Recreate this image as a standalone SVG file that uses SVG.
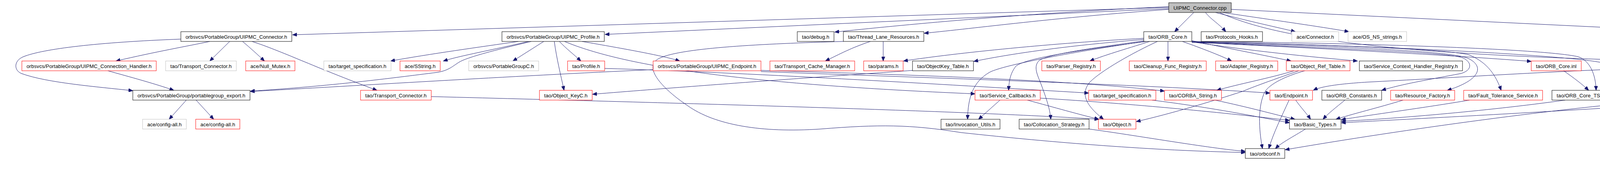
<svg xmlns="http://www.w3.org/2000/svg" width="4909" height="445" viewBox="0 0 4909 445">
<style>
rect{fill:#fff;stroke-width:1}
.k{stroke:#000}
.r{stroke:#f00}
.g{stroke:#bfbfbf}
.root{fill:#bfbfbf;stroke:#000}
text{font-family:"Liberation Sans",Arial,sans-serif;font-size:13px;fill:#000;text-anchor:middle}
#edges path{fill:none;stroke:#191970;stroke-width:1;marker-end:url(#arr)}
</style>
<defs>
<marker id="arr" markerUnits="userSpaceOnUse" markerWidth="12" markerHeight="9" refX="11" refY="4.5" orient="auto">
<path d="M0,0 L11,4.5 L0,9 z" fill="#191970" stroke="#191970"/>
</marker>
</defs>
<rect x="0" y="0" width="4909" height="445" fill="#fff" stroke="none"/>
<g id="edges">
<path d="M2992,19 L749,89"/>
<path d="M2992,22 L1549,88"/>
<path d="M2992,17 C2600,35 2300,65 2137,82"/>
<path d="M2992,24 C2700,45 2500,72 2366,85"/>
<path d="M3056,32 L3007,81"/>
<path d="M3086,32 C3100,50 3120,60 3138,81"/>
<path d="M3112,32 C3200,55 3270,70 3316,81"/>
<path d="M3130,32 C3250,50 3380,68 3453,81"/>
<path d="M3152,24 L4503,89"/>
<path d="M3122,32 C3250,90 3500,140 4268,156"/>
<path d="M537,106 C480,118 400,132 297,156"/>
<path d="M588,106 L537,156"/>
<path d="M621,106 C640,122 660,140 677,156"/>
<path d="M645,106 C720,130 800,170 965,231"/>
<path d="M463,100 C250,108 110,125 60,145 C35,155 35,180 55,188 C120,212 250,222 340,232"/>
<path d="M276,181 C330,196 400,215 445,231"/>
<path d="M477,256 L433,305"/>
<path d="M502,256 L547,305"/>
<path d="M1392,106 L1313,156"/>
<path d="M1419,106 C1425,150 1435,190 1444,231"/>
<path d="M1432,106 C1450,125 1470,140 1487,156"/>
<path d="M1327,106 C1230,120 1100,138 1000,156"/>
<path d="M1353,106 C1260,128 1180,142 1135,156"/>
<path d="M1360,106 C1280,125 1200,145 1177,158 C1160,168 1150,180 1120,185 C1000,200 850,220 641,233"/>
<path d="M1490,106 C1600,125 1700,143 1740,156"/>
<path d="M1445,106 C1600,170 1900,215 2496,240"/>
<path d="M1548,175 C1900,185 2400,215 2787,238"/>
<path d="M1672,178 C1300,195 900,220 641,234"/>
<path d="M1948,180 C2300,190 2750,205 2981,233"/>
<path d="M1948,183 C2400,200 2900,215 3251,238"/>
<path d="M1104,247 C1800,265 2500,285 2813,305"/>
<path d="M2337,180 C2200,190 1900,210 1517,241"/>
<path d="M2228,106 C2180,122 2150,138 2113,156"/>
<path d="M2261,106 L2261,156"/>
<path d="M2159,106 C1950,112 1750,122 1690,148 C1640,170 1700,230 1760,270 C1830,320 1950,340 2100,330 C2250,318 2330,318 2460,339 C2700,365 2950,385 3188,390"/>
<path d="M2928,98 C2700,110 2450,135 2313,156"/>
<path d="M2928,101 C2750,115 2600,135 2493,157"/>
<path d="M2943,106 C2900,120 2830,140 2790,156"/>
<path d="M2990,106 L2990,156"/>
<path d="M3027,106 C3080,125 3120,140 3153,156"/>
<path d="M2935,106 C2750,130 2620,150 2600,170 C2585,190 2583,210 2582,231"/>
<path d="M2930,106 C2700,140 2560,170 2533,185 C2490,210 2478,250 2477,305"/>
<path d="M2932,104 C2780,125 2680,140 2660,155 C2645,170 2655,190 2665,215 C2680,255 2688,280 2690,305"/>
<path d="M2963,106 C2900,135 2820,180 2790,210 C2765,240 2780,270 2825,305"/>
<path d="M3051,104 C3150,125 3230,140 3305,156"/>
<path d="M3051,107 C3200,130 3350,145 3475,156"/>
<path d="M3051,108 C3400,125 3700,140 3920,157"/>
<path d="M3051,106 C3500,110 3950,125 4040,145 C4070,155 4085,190 4086,231"/>
<path d="M3051,107 C3400,115 3700,125 3760,140 C3810,160 3830,195 3843,231"/>
<path d="M3051,108 C3450,120 3720,130 3760,150 C3800,170 3790,205 3705,231"/>
<path d="M3051,107 C3400,125 3700,132 3745,148 C3770,160 3768,180 3740,188 C3650,205 3590,215 3537,231"/>
<path d="M3051,107 C3500,115 4000,140 4100,160 C4170,175 4215,220 4214,245 C4212,262 4170,268 4100,277 C3800,295 3600,305 3434,314"/>
<path d="M3313,181 C3250,200 3170,215 3115,231"/>
<path d="M3325,181 C3270,200 3200,225 3183,233 C3100,260 3000,290 2909,311"/>
<path d="M3340,181 C3290,195 3250,215 3238,235 C3220,270 3222,330 3232,380"/>
<path d="M3317,256 C3330,275 3345,290 3355,305"/>
<path d="M3300,256 C3280,300 3260,340 3248,380"/>
<path d="M3443,256 C3420,275 3400,290 3387,305"/>
<path d="M3592,256 C3530,275 3460,292 3420,305"/>
<path d="M3762,256 C3650,275 3500,295 3434,306"/>
<path d="M4007,256 C3800,285 3550,305 3434,310"/>
<path d="M4272,255 C4000,275 3600,330 3290,383"/>
<path d="M2560,256 L2505,305"/>
<path d="M2630,256 C2700,275 2760,292 2813,305"/>
<path d="M2663,251 C2900,265 3150,290 3301,308"/>
<path d="M2949,256 C3100,275 3200,295 3301,314"/>
<path d="M3110,256 C3200,275 3260,292 3315,305"/>
<path d="M2788,330 C2900,345 3100,380 3188,387"/>
<path d="M3342,330 C3310,350 3280,365 3265,380"/>
<path d="M4003,181 C4030,200 4050,215 4067,231"/>
<path d="M4379,181 C4383,200 4386,215 4388,231"/>
<path d="M4425,181 C4500,200 4560,215 4595,231"/>
<path d="M4272,172 C4000,180 3700,200 3500,210 C3420,215 3380,222 3362,231"/>
<path d="M4592,106 L4592,156"/>
<path d="M4630,106 C4700,125 4740,140 4766,156"/>
</g>
<g id="n_root"><rect class="root" x="2992" y="7" width="160" height="25"/><text x="3072" y="24.5" textLength="136">UIPMC_Connector.cpp</text></g>
<g id="n_conn_h"><rect class="k" x="463" y="81" width="284" height="25"/><text x="605" y="98.5" textLength="260">orbsvcs/PortableGroup/UIPMC_Connector.h</text></g>
<g id="n_prof_h"><rect class="k" x="1285" y="81" width="262" height="25"/><text x="1416" y="98.5" textLength="238">orbsvcs/PortableGroup/UIPMC_Profile.h</text></g>
<g id="n_debug"><rect class="k" x="2041" y="81" width="94" height="25"/><text x="2088" y="98.5" textLength="70">tao/debug.h</text></g>
<g id="n_tlr"><rect class="k" x="2159" y="81" width="206" height="25"/><text x="2262" y="98.5" textLength="182">tao/Thread_Lane_Resources.h</text></g>
<g id="n_orbcore"><rect class="k" x="2928" y="81" width="123" height="25"/><text x="2989.5" y="98.5" textLength="99">tao/ORB_Core.h</text></g>
<g id="n_phooks"><rect class="k" x="3075" y="81" width="157" height="25"/><text x="3153.5" y="98.5" textLength="133">tao/Protocols_Hooks.h</text></g>
<g id="n_aceconn"><rect class="g" x="3307" y="81" width="120" height="25"/><text x="3367" y="98.5" textLength="96">ace/Connector.h</text></g>
<g id="n_nsstr"><rect class="g" x="3451" y="81" width="150" height="25"/><text x="3526" y="98.5" textLength="126">ace/OS_NS_strings.h</text></g>
<g id="n_netdb"><rect class="k" x="4503" y="81" width="180" height="25"/><text x="4593" y="98.5" textLength="156">ace/os_include/os_netdb.h</text></g>
<g id="n_ch"><rect class="r" x="56" y="156" width="344" height="25"/><text x="228" y="173.5" textLength="320">orbsvcs/PortableGroup/UIPMC_Connection_Handler.h</text></g>
<g id="n_tc_g"><rect class="g" x="424" y="156" width="181" height="25"/><text x="514.5" y="173.5" textLength="157">tao/Transport_Connector.h</text></g>
<g id="n_nullmutex"><rect class="r" x="629" y="156" width="126" height="25"/><text x="692" y="173.5" textLength="102">ace/Null_Mutex.h</text></g>
<g id="n_ts_g"><rect class="g" x="829" y="156" width="172" height="25"/><text x="915" y="173.5" textLength="148">tao/target_specification.h</text></g>
<g id="n_sstring"><rect class="r" x="1024" y="156" width="103" height="25"/><text x="1075.5" y="173.5" textLength="79">ace/SString.h</text></g>
<g id="n_pgc"><rect class="g" x="1200" y="156" width="179" height="25"/><text x="1289.5" y="173.5" textLength="155">orbsvcs/PortableGroupC.h</text></g>
<g id="n_profile"><rect class="r" x="1453" y="156" width="95" height="25"/><text x="1500.5" y="173.5" textLength="71">tao/Profile.h</text></g>
<g id="n_endpoint_pg"><rect class="r" x="1672" y="156" width="276" height="25"/><text x="1810" y="173.5" textLength="252">orbsvcs/PortableGroup/UIPMC_Endpoint.h</text></g>
<g id="n_tcm"><rect class="r" x="1971" y="156" width="217" height="25"/><text x="2079.5" y="173.5" textLength="193">tao/Transport_Cache_Manager.h</text></g>
<g id="n_params"><rect class="r" x="2211" y="156" width="101" height="25"/><text x="2261.5" y="173.5" textLength="77">tao/params.h</text></g>
<g id="n_okt"><rect class="k" x="2336" y="156" width="156" height="25"/><text x="2414" y="173.5" textLength="132">tao/ObjectKey_Table.h</text></g>
<g id="n_parser"><rect class="r" x="2667" y="156" width="150" height="25"/><text x="2742" y="173.5" textLength="126">tao/Parser_Registry.h</text></g>
<g id="n_cleanup"><rect class="r" x="2891" y="156" width="197" height="25"/><text x="2989.5" y="173.5" textLength="173">tao/Cleanup_Func_Registry.h</text></g>
<g id="n_adapter"><rect class="r" x="3112" y="156" width="159" height="25"/><text x="3191.5" y="173.5" textLength="135">tao/Adapter_Registry.h</text></g>
<g id="n_ort"><rect class="r" x="3293" y="156" width="163" height="25"/><text x="3374.5" y="173.5" textLength="139">tao/Object_Ref_Table.h</text></g>
<g id="n_schr"><rect class="k" x="3480" y="156" width="264" height="25"/><text x="3612" y="173.5" textLength="240">tao/Service_Context_Handler_Registry.h</text></g>
<g id="n_orbinl"><rect class="r" x="3920" y="156" width="128" height="25"/><text x="3984" y="173.5" textLength="104">tao/ORB_Core.inl</text></g>
<g id="n_btp"><rect class="k" x="4272" y="156" width="208" height="25"/><text x="4376" y="173.5" textLength="184">tao/Base_Transport_Property.h</text></g>
<g id="n_limits"><rect class="r" x="4504" y="156" width="177" height="25"/><text x="4592.5" y="173.5" textLength="153">ace/os_include/os_limits.h</text></g>
<g id="n_osin"><rect class="r" x="4704" y="156" width="201" height="25"/><text x="4804.5" y="173.5" textLength="177">ace/os_include/netinet/os_in.h</text></g>
<g id="n_export"><rect class="k" x="340" y="231" width="300" height="25"/><text x="490" y="248.5" textLength="276">orbsvcs/PortableGroup/portablegroup_export.h</text></g>
<g id="n_tc_r"><rect class="r" x="923" y="231" width="181" height="25"/><text x="1013.5" y="248.5" textLength="157">tao/Transport_Connector.h</text></g>
<g id="n_okc"><rect class="r" x="1381" y="231" width="135" height="25"/><text x="1448.5" y="248.5" textLength="111">tao/Object_KeyC.h</text></g>
<g id="n_sc"><rect class="r" x="2496" y="231" width="167" height="25"/><text x="2579.5" y="248.5" textLength="143">tao/Service_Callbacks.h</text></g>
<g id="n_ts_r"><rect class="r" x="2787" y="231" width="172" height="25"/><text x="2873" y="248.5" textLength="148">tao/target_specification.h</text></g>
<g id="n_cs"><rect class="r" x="2981" y="231" width="146" height="25"/><text x="3054" y="248.5" textLength="122">tao/CORBA_String.h</text></g>
<g id="n_endpoint"><rect class="r" x="3251" y="231" width="109" height="25"/><text x="3305.5" y="248.5" textLength="85">tao/Endpoint.h</text></g>
<g id="n_orbconst"><rect class="k" x="3384" y="231" width="153" height="25"/><text x="3460.5" y="248.5" textLength="129">tao/ORB_Constants.h</text></g>
<g id="n_rf"><rect class="r" x="3560" y="231" width="164" height="25"/><text x="3642" y="248.5" textLength="140">tao/Resource_Factory.h</text></g>
<g id="n_fts"><rect class="r" x="3747" y="231" width="202" height="25"/><text x="3848" y="248.5" textLength="178">tao/Fault_Tolerance_Service.h</text></g>
<g id="n_tss"><rect class="k" x="3973" y="231" width="226" height="25"/><text x="4086" y="248.5" textLength="202">tao/ORB_Core_TSS_Resources.h</text></g>
<g id="n_tdi"><rect class="r" x="4272" y="231" width="241" height="25"/><text x="4392.5" y="248.5" textLength="217">tao/Transport_Descriptor_Interface.h</text></g>
<g id="n_btpinl"><rect class="k" x="4536" y="231" width="215" height="25"/><text x="4643.5" y="248.5" textLength="191">tao/Base_Transport_Property.inl</text></g>
<g id="n_cfg_g"><rect class="g" x="365" y="305" width="112" height="25"/><text x="421" y="322.5" textLength="88">ace/config-all.h</text></g>
<g id="n_cfg_r"><rect class="r" x="501" y="305" width="113" height="25"/><text x="557.5" y="322.5" textLength="89">ace/config-all.h</text></g>
<g id="n_iu"><rect class="k" x="2409" y="305" width="151" height="25"/><text x="2484.5" y="322.5" textLength="127">tao/Invocation_Utils.h</text></g>
<g id="n_colstrat"><rect class="k" x="2609" y="305" width="179" height="25"/><text x="2698.5" y="322.5" textLength="155">tao/Collocation_Strategy.h</text></g>
<g id="n_object"><rect class="r" x="2812" y="305" width="96" height="25"/><text x="2860" y="322.5" textLength="72">tao/Object.h</text></g>
<g id="n_bt"><rect class="k" x="3301" y="305" width="132" height="25"/><text x="3367" y="322.5" textLength="108">tao/Basic_Types.h</text></g>
<g id="n_orbconf"><rect class="k" x="3188" y="380" width="101" height="25"/><text x="3238.5" y="397.5" textLength="77">tao/orbconf.h</text></g>
</svg>
